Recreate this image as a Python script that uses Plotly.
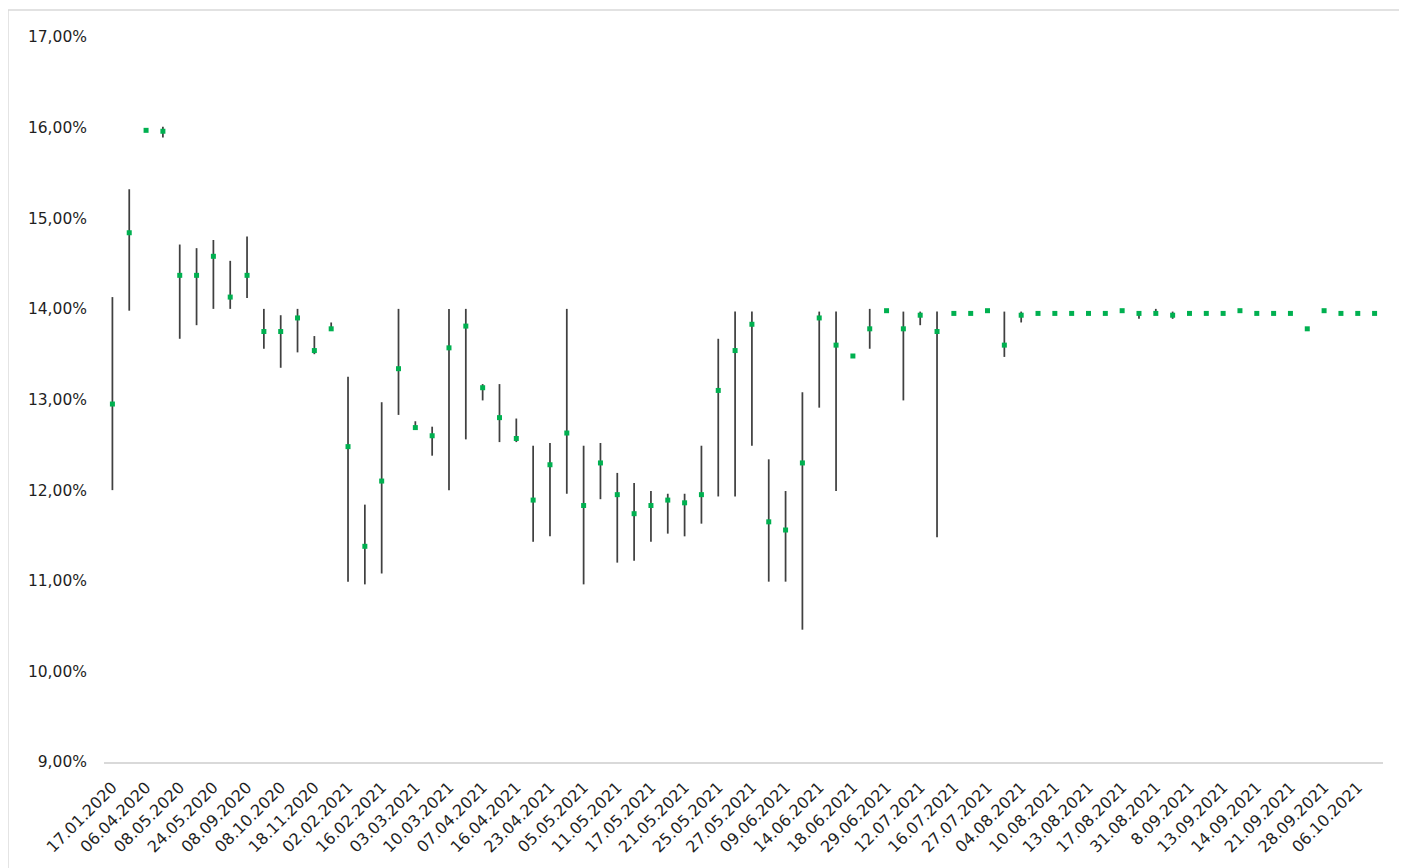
import plotly.graph_objects as go

# Category labels shown on the axis (every other category is labelled)
tick_labels = [
    "17.01.2020", "06.04.2020", "08.05.2020", "24.05.2020", "08.09.2020", "08.10.2020",
    "18.11.2020", "02.02.2021", "16.02.2021", "03.03.2021", "10.03.2021", "07.04.2021",
    "16.04.2021", "23.04.2021", "05.05.2021", "11.05.2021", "17.05.2021", "21.05.2021",
    "25.05.2021", "27.05.2021", "09.06.2021", "14.06.2021", "18.06.2021", "29.06.2021",
    "12.07.2021", "16.07.2021", "27.07.2021", "04.08.2021", "10.08.2021", "13.08.2021",
    "17.08.2021", "31.08.2021", "8.09.2021", "13.09.2021", "14.09.2021", "21.09.2021",
    "28.09.2021", "06.10.2021",
]

# Y-axis tick values (%)
y_ticks = [9, 10, 11, 12, 13, 14, 15, 16, 17]

# High / low / average yield (%) for each of the 76 auctions
high = [
    14.13, 15.32, 15.97, 16.01, 14.71, 14.67, 14.76, 14.53, 14.80, 14.00,
    13.93, 14.00, 13.70, 13.85, 13.25, 11.84, 12.97, 14.00, 12.76, 12.70,
    14.00, 14.00, 13.17, 13.17, 12.79, 12.49, 12.52, 14.00, 12.49, 12.52,
    12.19, 12.08, 11.99, 11.96, 11.96, 12.49, 13.67, 13.97, 13.97, 12.34,
    11.99, 13.08, 13.97, 13.97, 13.48, 14.00, 13.98, 13.97, 13.97, 13.97,
    13.95, 13.95, 13.98, 13.97, 13.97, 13.95, 13.95, 13.95, 13.95, 13.95,
    13.98, 13.95, 14.00, 13.97, 13.95, 13.95, 13.95, 13.98, 13.95, 13.95,
    13.95, 13.78, 13.98, 13.95, 13.95, 13.95,
]
low = [
    12.00, 13.98, 15.97, 15.89, 13.67, 13.82, 14.00, 14.00, 14.12, 13.56,
    13.35, 13.52, 13.50, 13.76, 10.99, 10.96, 11.08, 12.83, 12.69, 12.38,
    12.00, 12.56, 12.99, 12.53, 12.53, 11.43, 11.49, 11.96, 10.96, 11.90,
    11.20, 11.22, 11.43, 11.52, 11.49, 11.63, 11.93, 11.93, 12.49, 10.99,
    10.99, 10.46, 12.91, 11.99, 13.48, 13.56, 13.98, 12.99, 13.82, 11.48,
    13.95, 13.95, 13.98, 13.47, 13.85, 13.95, 13.95, 13.95, 13.95, 13.95,
    13.98, 13.89, 13.95, 13.89, 13.95, 13.95, 13.95, 13.98, 13.95, 13.95,
    13.95, 13.78, 13.98, 13.95, 13.95, 13.95,
]
avg = [
    12.95, 14.84, 15.97, 15.96, 14.37, 14.37, 14.58, 14.13, 14.37, 13.75,
    13.75, 13.90, 13.54, 13.78, 12.48, 11.38, 12.10, 13.34, 12.69, 12.60,
    13.57, 13.81, 13.13, 12.80, 12.57, 11.89, 12.28, 12.63, 11.83, 12.30,
    11.95, 11.74, 11.83, 11.89, 11.86, 11.95, 13.10, 13.54, 13.83, 11.65,
    11.56, 12.30, 13.90, 13.60, 13.48, 13.78, 13.98, 13.78, 13.93, 13.75,
    13.95, 13.95, 13.98, 13.60, 13.93, 13.95, 13.95, 13.95, 13.95, 13.95,
    13.98, 13.95, 13.95, 13.93, 13.95, 13.95, 13.95, 13.98, 13.95, 13.95,
    13.95, 13.78, 13.98, 13.95, 13.95, 13.95,
]

n = len(avg)
idx = list(range(n))

# Build high-low segments
seg_x, seg_y = [], []
for i in idx:
    seg_x += [i, i, None]
    seg_y += [low[i], high[i], None]

y_text = [f"{v:.2f}".replace(".", ",") + "%" for v in y_ticks]

FONT = "DejaVu Sans"
TXT = "#1f1f1f"

fig = go.Figure()
fig.add_trace(go.Scatter(
    x=seg_x, y=seg_y, mode="lines",
    line=dict(color="#404040", width=1.75),
    hoverinfo="skip", showlegend=False,
))
fig.add_trace(go.Scatter(
    x=idx, y=avg, mode="markers",
    marker=dict(symbol="square", size=5, color="#00B050", line=dict(width=0)),
    showlegend=False,
))

fig.update_layout(
    width=1399, height=860,
    margin=dict(l=96, r=24, t=29, b=104),
    paper_bgcolor="white", plot_bgcolor="white",
    font=dict(family=FONT, size=16, color=TXT),
    xaxis=dict(
        range=[-0.5, n - 0.5],
        tickmode="array",
        tickvals=idx[::2],
        ticktext=tick_labels,
        tickangle=-45,
        showgrid=False, zeroline=False,
        showline=True, linecolor="#d9d9d9", linewidth=1.5,
        ticks="", ticklabelstandoff=8,
        tickfont=dict(family=FONT, size=16, color=TXT),
    ),
    yaxis=dict(
        range=[9, 17],
        tickmode="array",
        tickvals=y_ticks,
        ticktext=y_text,
        showgrid=False, zeroline=False, showline=False,
        ticks="", ticklabelstandoff=16,
        tickfont=dict(family=FONT, size=15.5, color=TXT),
    ),
    shapes=[dict(
        type="rect", xref="paper", yref="paper",
        x0=-0.0751, x1=1.018, y0=-0.16, y1=1.0371,
        line=dict(color="#d9d9d9", width=1.5), fillcolor="rgba(0,0,0,0)",
        layer="below",
    )],
)

fig.write_html("out.html")
